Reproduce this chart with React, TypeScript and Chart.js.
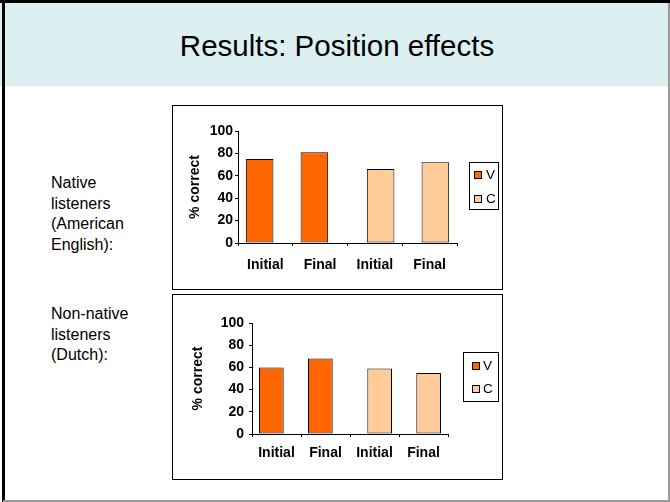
import React, { useEffect, useRef } from "react";
import { Chart, registerables } from "chart.js";

Chart.register(...registerables);

// Word positions in the test sentences, split by the vowel (V) and consonant (C) targets
const categories = ["Initial", "Final", "Initial", "Final"];
const seriesNames = ["V", "C"];

// Percent correct, native listeners (American English)
const nativeV = [75, 81, null, null];
const nativeC = [null, null, 66, 72];

// Percent correct, non-native listeners (Dutch)
const nonNativeV = [60, 68, null, null];
const nonNativeC = [null, null, 59, 55];

const yTickValues = [0, 20, 40, 60, 80, 100];
const yTitle = "% correct";

const COLOR_V = "#ff6600";
const COLOR_C = "#ffcc99";
const FONT = "'Liberation Sans', Arial, Helvetica, sans-serif";

// Legend drawn as a framed box to the right of the plot
const boxLegend = {
  id: "boxLegend",
  afterDraw(chart: any, _args: any, opts: any) {
    const ctx = chart.ctx as CanvasRenderingContext2D;
    ctx.save();
    ctx.fillStyle = "#ffffff";
    ctx.fillRect(opts.x, opts.y, opts.w, opts.h);
    ctx.strokeStyle = "#000000";
    ctx.lineWidth = 1;
    ctx.strokeRect(opts.x + 0.5, opts.y + 0.5, opts.w, opts.h);
    ctx.font = `13.5px ${FONT}`;
    ctx.textBaseline = "middle";
    ctx.textAlign = "left";
    chart.data.datasets.forEach((ds: any, i: number) => {
      const cy = opts.firstY + i * opts.gap;
      const s = opts.swatch;
      ctx.fillStyle = ds.backgroundColor;
      ctx.fillRect(opts.swatchX, Math.round(cy - s / 2), s, s);
      ctx.strokeStyle = "#000000";
      ctx.strokeRect(opts.swatchX + 0.5, Math.round(cy - s / 2) + 0.5, s - 1, s - 1);
      ctx.fillStyle = "#000000";
      ctx.fillText(ds.label, opts.textX, cy + 0.5);
    });
    ctx.restore();
  },
};

type Layout = {
  top: number;
  right: number;
  yWidth: number;
  xHeight: number;
  titlePad: number;
  yTickPad: number;
  xTickPad: number;
  legend: any;
};

// V and C keep their own slot in every category, so the bars sit
// slightly left (V) or right (C) of the category centre.
const CATEGORY_PCT = 0.42;
const BAR_PCT = 2.4;

function makeConfig(v: (number | null)[], c: (number | null)[], L: Layout): any {
  const tickFont = { family: FONT, size: 14, weight: "bold" as const };
  const barStyle = {
    borderColor: "#000000",
    borderWidth: 1,
    borderSkipped: false,
    barPercentage: BAR_PCT,
    categoryPercentage: CATEGORY_PCT,
  };
  return {
    type: "bar",
    data: {
      labels: categories,
      datasets: [
        { label: seriesNames[0], data: v, backgroundColor: COLOR_V, ...barStyle },
        { label: seriesNames[1], data: c, backgroundColor: COLOR_C, ...barStyle },
      ],
    },
    options: {
      responsive: false,
      animation: false,
      events: [],
      layout: { padding: { left: 0, top: L.top, right: L.right, bottom: 0 } },
      plugins: {
        legend: { display: false },
        tooltip: { enabled: false },
        title: { display: false },
        boxLegend: L.legend,
      },
      scales: {
        x: {
          offset: true,
          grid: {
            display: true,
            offset: true,
            drawOnChartArea: false,
            drawTicks: true,
            tickLength: 3,
            color: "#000000",
          },
          border: { display: true, color: "#000000", width: 1 },
          ticks: { color: "#000000", font: tickFont, padding: L.xTickPad, maxRotation: 0 },
          afterFit: (s: any) => {
            s.height = L.xHeight;
          },
        },
        y: {
          min: 0,
          max: 100,
          grid: {
            display: true,
            drawOnChartArea: false,
            drawTicks: true,
            tickLength: 3,
            color: "#000000",
          },
          border: { display: true, color: "#000000", width: 1 },
          ticks: { color: "#000000", font: tickFont, padding: L.yTickPad, stepSize: 20 },
          afterBuildTicks: (s: any) => {
            s.ticks = yTickValues.map((value) => ({ value }));
          },
          title: {
            display: true,
            text: yTitle,
            color: "#000000",
            font: { family: FONT, size: 14, weight: "bold" as const },
            padding: { top: L.titlePad, bottom: 0 },
          },
          afterFit: (s: any) => {
            s.width = L.yWidth;
          },
        },
      },
    },
    plugins: [boxLegend],
  };
}

function BarChart(props: {
  v: (number | null)[];
  c: (number | null)[];
  layout: Layout;
  width: number;
  height: number;
}) {
  const ref = useRef<HTMLCanvasElement | null>(null);
  useEffect(() => {
    if (!ref.current) return;
    const chart = new Chart(ref.current, makeConfig(props.v, props.c, props.layout));
    return () => chart.destroy();
  }, []);
  return (
    <canvas
      ref={ref}
      width={props.width}
      height={props.height}
      style={{ display: "block", width: props.width, height: props.height }}
    />
  );
}

const nativeLayout: Layout = {
  top: 25,
  right: 45,
  yWidth: 65,
  xHeight: 46,
  titlePad: 14,
  yTickPad: 2,
  xTickPad: 11,
  legend: { x: 296, y: 56, w: 29, h: 47, swatch: 8, swatchX: 301, textX: 313, firstY: 68.5, gap: 24.5 },
};

const nonNativeLayout: Layout = {
  top: 28,
  right: 54,
  yWidth: 79,
  xHeight: 45,
  titlePad: 17,
  yTickPad: 5,
  xTickPad: 7.5,
  legend: { x: 290, y: 57, w: 35, h: 49, swatch: 8, swatchX: 299, textX: 310, firstY: 71, gap: 23 },
};

const textBlock: React.CSSProperties = {
  position: "absolute",
  left: 51,
  fontFamily: FONT,
  fontSize: 16,
  lineHeight: "20.5px",
  color: "#000",
};

export default function App() {
  return (
    <div
      style={{
        position: "fixed",
        left: 0,
        top: 0,
        width: 670,
        height: 502,
        background: "#ffffff",
        overflow: "hidden",
        fontFamily: FONT,
      }}
    >
      {/* title band */}
      <div
        style={{
          position: "absolute",
          left: 0,
          top: 0,
          width: 670,
          height: 86,
          background: "#dcf0f2",
        }}
      />
      <div
        style={{
          position: "absolute",
          left: 0,
          top: 28,
          width: 674,
          textAlign: "center",
          fontSize: 29.5,
          lineHeight: "36px",
          color: "#000",
        }}
      >
        Results: Position effects
      </div>

      {/* slide frame */}
      <div style={{ position: "absolute", left: 0, top: 0, width: 670, height: 3, background: "#000" }} />
      <div style={{ position: "absolute", left: 2, top: 0, width: 3, height: 502, background: "#000" }} />
      <div style={{ position: "absolute", left: 668, top: 3, width: 2, height: 499, background: "#9a9a9a" }} />
      <div style={{ position: "absolute", left: 3, top: 500, width: 667, height: 2, background: "#9a9a9a" }} />

      {/* group labels */}
      <div style={{ ...textBlock, top: 173 }}>
        Native
        <br />
        listeners
        <br />
        (American
        <br />
        English):
      </div>
      <div style={{ ...textBlock, top: 304 }}>
        Non-native
        <br />
        listeners
        <br />
        (Dutch):
      </div>

      {/* charts */}
      <div
        style={{
          position: "absolute",
          left: 172,
          top: 105,
          width: 331,
          height: 185,
          boxSizing: "border-box",
          border: "1px solid #000",
          background: "#fff",
        }}
      >
        <BarChart v={nativeV} c={nativeC} layout={nativeLayout} width={329} height={183} />
      </div>
      <div
        style={{
          position: "absolute",
          left: 172,
          top: 294,
          width: 331,
          height: 186,
          boxSizing: "border-box",
          border: "1px solid #000",
          background: "#fff",
        }}
      >
        <BarChart v={nonNativeV} c={nonNativeC} layout={nonNativeLayout} width={329} height={184} />
      </div>
    </div>
  );
}
